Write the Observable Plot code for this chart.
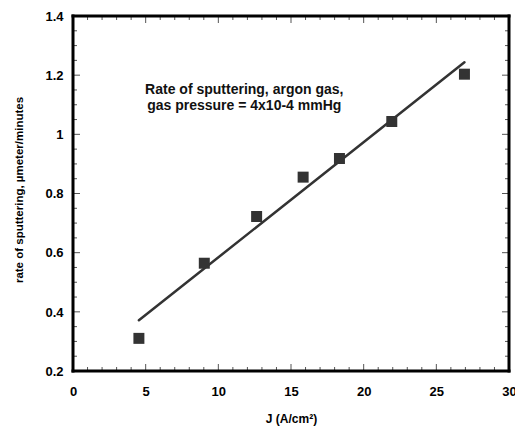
<!DOCTYPE html>
<html>
<head>
<meta charset="utf-8">
<script src="https://cdn.jsdelivr.net/npm/d3@7"></script>
<script src="https://cdn.jsdelivr.net/npm/@observablehq/plot@0.6"></script>
<style>
  html, body { margin: 0; padding: 0; background: #fff; }
</style>
</head>
<body>
<div id="chart"></div>
<script>
// Data
const currentDensity = [4.5, 9.0, 12.6, 15.8, 18.3, 21.9, 26.9];          // J (A/cm²)
const sputterRate    = [0.312, 0.566, 0.724, 0.857, 0.920, 1.045, 1.205]; // µmeter/minutes

const xDomain = [0, 30];
const yDomain = [0.2, 1.4];
const xMajorTicks = [0, 5, 10, 15, 20, 25, 30];
const xMinorTicks = d3.range(0, 31, 1).filter(d => d % 5 !== 0);
const yMajorTicks = [0.2, 0.4, 0.6, 0.8, 1, 1.2, 1.4];
const yMinorTicks = d3.range(0, 25).map(i => 0.2 + i * 0.05).filter((d, i) => i % 4 !== 0);

const xLabel = "J (A/cm²)";
const yLabel = "rate of sputtering, µmeter/minutes";
const noteText = ["Rate of sputtering, argon gas,\ngas pressure = 4x10-4 mmHg"];
const noteX = [11.75];
const noteY = [1.128];

const data = currentDensity.map((x, i) => ({x, y: sputterRate[i]}));
const notes = noteText.map((t, i) => ({t, x: noteX[i], y: noteY[i]}));

const tickColor = "#555";
const font = "'Liberation Sans', Arial, Helvetica, sans-serif";
const fmt = d => `${+d.toFixed(2)}`;
const [x0, x1] = xDomain;
const [y0, y1] = yDomain;

// inward ticks drawn as thin filled rectangles hanging off each frame edge
function xTicks(ticks, len) {
  return [
    Plot.rect(ticks, {x1: d => d, x2: d => d, y1: () => y0, y2: () => y0, insetLeft: -0.5, insetRight: -0.5, insetTop: -len, fill: tickColor}),
    Plot.rect(ticks, {x1: d => d, x2: d => d, y1: () => y1, y2: () => y1, insetLeft: -0.5, insetRight: -0.5, insetBottom: -len, fill: tickColor})
  ];
}
function yTicks(ticks, len) {
  return [
    Plot.rect(ticks, {y1: d => d, y2: d => d, x1: () => x0, x2: () => x0, insetTop: -0.5, insetBottom: -0.5, insetRight: -len, fill: tickColor}),
    Plot.rect(ticks, {y1: d => d, y2: d => d, x1: () => x1, x2: () => x1, insetTop: -0.5, insetBottom: -0.5, insetLeft: -len, fill: tickColor})
  ];
}

const chart = Plot.plot({
  width: 515,
  height: 430,
  marginLeft: 73,
  marginRight: 6,
  marginTop: 16,
  marginBottom: 59,
  style: {fontFamily: font, background: "#fff"},
  x: {domain: xDomain},
  y: {domain: yDomain},
  marks: [
    ...xTicks(xMinorTicks, 4),
    ...xTicks(xMajorTicks, 7),
    ...yTicks(yMinorTicks, 4),
    ...yTicks(yMajorTicks, 7),
    // tick labels
    Plot.axisX({anchor: "bottom", ticks: xMajorTicks, tickSize: 0, tickPadding: 15, tickFormat: fmt, fontSize: 13, fontWeight: "bold", fill: "#000", label: null}),
    Plot.axisY({anchor: "left", ticks: yMajorTicks, tickSize: 0, tickPadding: 10, tickFormat: fmt, fontSize: 13, fontWeight: "bold", fill: "#000", label: null}),
    // axis titles
    Plot.text([xLabel], {frameAnchor: "bottom", dy: 48, lineAnchor: "middle", fontSize: 12, fontWeight: "bold", fill: "#000"}),
    Plot.text([yLabel], {frameAnchor: "left", rotate: -90, textAnchor: "middle", dx: -54, dy: -4, fontSize: 11.5, fontWeight: "bold", fill: "#000"}),
    // fit line and data points
    Plot.linearRegressionY(data, {x: "x", y: "y", ci: 0, stroke: "#333", strokeWidth: 2.5}),
    Plot.dot(data, {x: "x", y: "y", symbol: "square", r: 6.2, fill: "#333", stroke: "none"}),
    // annotation
    Plot.text(notes, {x: "x", y: "y", text: "t", fontSize: 14, fontWeight: "bold", lineHeight: 1.1, fill: "#111"}),
    // thick frame drawn as four filled bars
    Plot.rect([0], {x1: () => x0, x2: () => x0, y1: () => y0, y2: () => y1, insetLeft: -1.5, insetRight: -1.5, insetTop: -1.5, insetBottom: -1.5, fill: "#000"}),
    Plot.rect([0], {x1: () => x1, x2: () => x1, y1: () => y0, y2: () => y1, insetLeft: -1.5, insetRight: -1.5, insetTop: -1.5, insetBottom: -1.5, fill: "#000"}),
    Plot.rect([0], {x1: () => x0, x2: () => x1, y1: () => y0, y2: () => y0, insetLeft: -1.5, insetRight: -1.5, insetTop: -1.5, insetBottom: -1.5, fill: "#000"}),
    Plot.rect([0], {x1: () => x0, x2: () => x1, y1: () => y1, y2: () => y1, insetLeft: -1.5, insetRight: -1.5, insetTop: -1.5, insetBottom: -1.5, fill: "#000"})
  ]
});

document.getElementById("chart").appendChild(chart);
</script>
</body>
</html>
